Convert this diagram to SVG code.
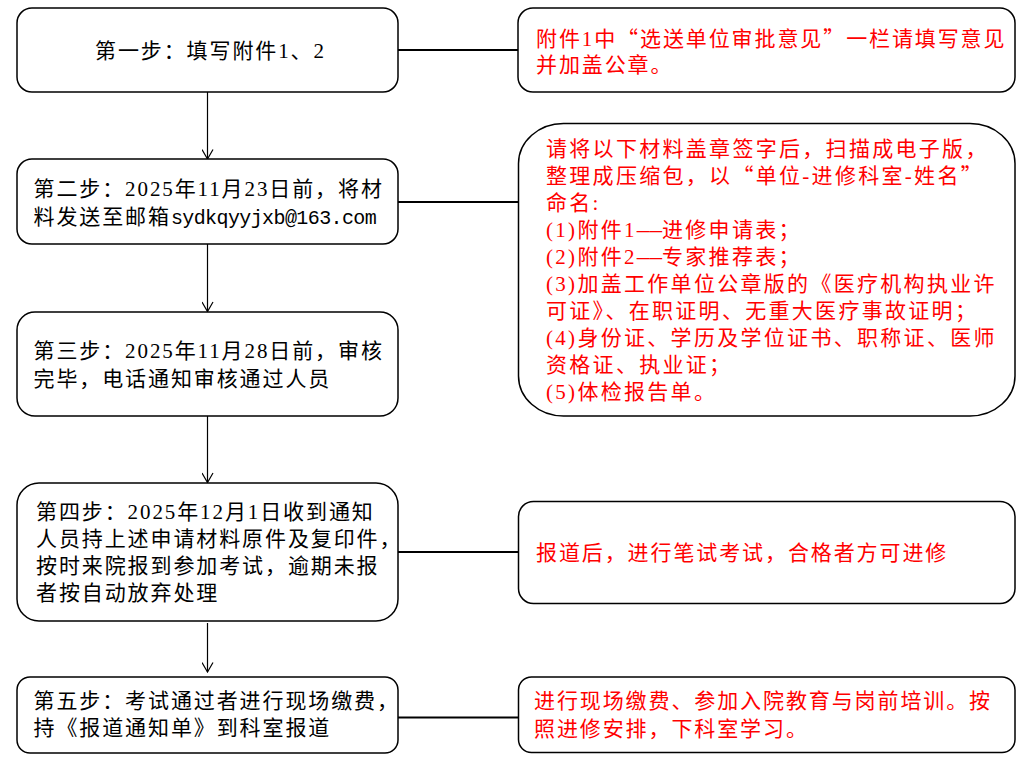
<svg xmlns="http://www.w3.org/2000/svg" width="1034" height="758" viewBox="0 0 1034 758">
<defs>
<style>
.box{fill:#fff;stroke:#000;stroke-width:1.5}
.t{font-family:'Liberation Serif','Noto Sans CJK SC',serif;font-size:21px;letter-spacing:1.9px;fill:#000}
.r{fill:#f00}
.b{letter-spacing:2.3px}
.q{font-family:'Noto Sans CJK SC',sans-serif}
.m{font-family:'Liberation Mono',monospace;font-size:20px;letter-spacing:-0.6px}
.d{font-family:'Liberation Mono',monospace;letter-spacing:0px}
.h{stroke:#000;stroke-width:2;fill:none}
.v{stroke:#000;stroke-width:1.2;fill:none}
</style>
<marker id="arr" viewBox="0 0 12 12" refX="11" refY="6" markerWidth="12" markerHeight="12" markerUnits="userSpaceOnUse" orient="auto">
<path d="M1.5,0.5 L11,6 L1.5,11.5" fill="none" stroke="#000" stroke-width="1.2"/>
</marker>
</defs>
<rect width="1034" height="758" fill="#fff"/>

<g id="connectors">
<line class="v" x1="207.5" y1="92" x2="207.5" y2="159" marker-end="url(#arr)"/>
<line class="v" x1="207.5" y1="244" x2="207.5" y2="311.5" marker-end="url(#arr)"/>
<line class="v" x1="207.5" y1="416" x2="207.5" y2="482.5" marker-end="url(#arr)"/>
<line class="v" x1="207.5" y1="623" x2="207.5" y2="672" marker-end="url(#arr)"/>
<line class="h" x1="398" y1="50" x2="518" y2="50"/>
<line class="h" x1="398" y1="202" x2="519" y2="202"/>
<line class="h" x1="398" y1="552" x2="518" y2="552"/>
<line class="h" x1="398" y1="717.5" x2="518" y2="717.5"/>
</g>

<g id="step1">
<rect class="box" x="17" y="8" width="381" height="84" rx="15"/>
<text class="t" x="95" y="57.5">第一步：填写附件1、2</text>
</g>

<g id="note1">
<rect class="box" x="518" y="8" width="497" height="84" rx="15"/>
<text class="t r" x="536" y="46">附件1中<tspan class="q">“</tspan>选送单位审批意见<tspan class="q">”</tspan>一栏请填写意见</text>
<text class="t r" x="536" y="71.5">并加盖公章。</text>
</g>

<g id="step2">
<rect class="box" x="17" y="159" width="381" height="85" rx="15"/>
<text class="t" x="33.5" y="195.5">第二步：2025年11月23日前，将材</text>
<text class="t" x="33.5" y="224">料发送至邮箱<tspan class="m">sydkqyyjxb@163.com</tspan></text>
</g>

<g id="note2">
<rect class="box" x="518.5" y="123.5" width="496.5" height="292.5" rx="45" ry="40"/>
<text class="t r b" x="546" y="155.5">请将以下材料盖章签字后，扫描成电子版，</text>
<text class="t r b" x="546" y="182.5">整理成压缩包，以<tspan class="q">“</tspan>单位-进修科室-姓名<tspan class="q">”</tspan></text>
<text class="t r b" x="546" y="209.5">命名:</text>
<text class="t r b" x="546" y="236.5">(1)附件1<tspan class="d">——</tspan>进修申请表；</text>
<text class="t r b" x="546" y="263.5">(2)附件2<tspan class="d">——</tspan>专家推荐表；</text>
<text class="t r b" x="546" y="290.5">(3)加盖工作单位公章版的《医疗机构执业许</text>
<text class="t r b" x="546" y="317.5">可证》、在职证明、无重大医疗事故证明；</text>
<text class="t r b" x="546" y="344.5">(4)身份证、学历及学位证书、职称证、医师</text>
<text class="t r b" x="546" y="371.5">资格证、执业证；</text>
<text class="t r b" x="546" y="398.5">(5)体检报告单。</text>
</g>

<g id="step3">
<rect class="box" x="17" y="312" width="381" height="104" rx="18"/>
<text class="t" x="33.5" y="357.5">第三步：2025年11月28日前，审核</text>
<text class="t" x="33.5" y="385.5">完毕，电话通知审核通过人员</text>
</g>

<g id="step4">
<rect class="box" x="17" y="483" width="381" height="138" rx="22"/>
<text class="t" x="36" y="518.5">第四步：2025年12月1日收到通知</text>
<text class="t" x="36" y="545.5">人员持上述申请材料原件及复印件，</text>
<text class="t" x="36" y="573">按时来院报到参加考试，逾期未报</text>
<text class="t" x="36" y="600">者按自动放弃处理</text>
</g>

<g id="note4">
<rect class="box" x="518.5" y="501.5" width="496.5" height="102" rx="15"/>
<text class="t r" x="536" y="559.5">报道后，进行笔试考试，合格者方可进修</text>
</g>

<g id="step5">
<rect class="box" x="17" y="677" width="381" height="76" rx="13"/>
<text class="t" x="33.5" y="707.5">第五步：考试通过者进行现场缴费，</text>
<text class="t" x="33.5" y="735">持《报道通知单》到科室报道</text>
</g>

<g id="note5">
<rect class="box" x="518.5" y="677" width="496.5" height="75.5" rx="13"/>
<text class="t r" x="534" y="707.5">进行现场缴费、参加入院教育与岗前培训。按</text>
<text class="t r" x="534" y="735.5">照进修安排，下科室学习。</text>
</g>
</svg>
